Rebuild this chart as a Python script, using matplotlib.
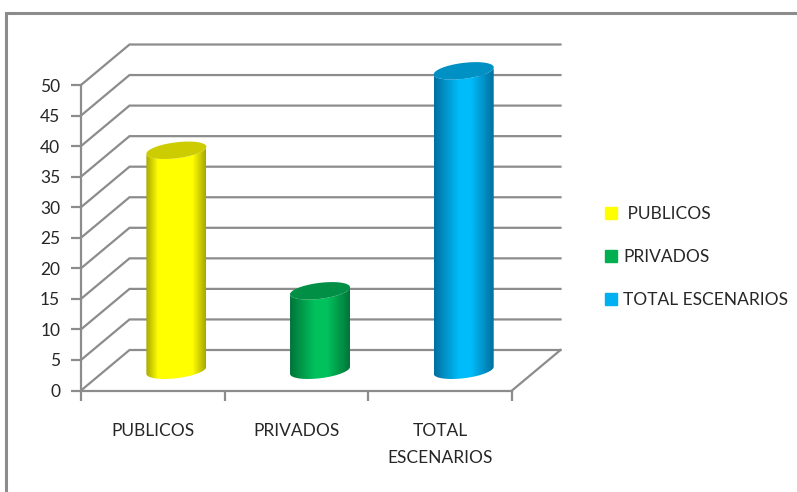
# grafico de escenarios: cylinders drawn on a fake 3D wall/floor
import numpy as np
import matplotlib
matplotlib.use("Agg")
import matplotlib.pyplot as plt
from matplotlib.colors import LinearSegmentedColormap
from matplotlib.lines import Line2D
from matplotlib.patches import Polygon, Rectangle

# data
categories = ["PUBLICOS", "PRIVADOS", "TOTAL\nESCENARIOS"]
legend_labels = [" PUBLICOS", "PRIVADOS", "TOTAL ESCENARIOS"]
values = [36, 13, 49]
y_ticks = list(range(0, 55, 5))

# colours: edge, centre, top cap
body_edge = ["#a8a800", "#00753a", "#0070a0"]
body_mid = ["#ffff00", "#00c25c", "#00bcfa"]
cap_colors = ["#cccc00", "#008f45", "#0091c4"]
legend_colors = ["#ffff00", "#00b050", "#00b0f0"]
# where the bright part of each body starts and ends, as a share of its width
bright_from = [0.2, 0.42, 0.42]
bright_to = [0.78, 0.62, 0.62]

# figure appearance (pixels of the 797x492 picture)
W, H = 797, 492
LEFT, RIGHT = 81, 512
BOTTOM, TOP = 390.5, 85
DEPTH_X, DEPTH_Y = 48.5, 40.5
CYL_RX = 30
CYL_TILT = 3.5
CYL_RY = 8
GRID = "#8c8c8c"
TEXT = "#262626"
FONT_SIZE = 12.5

plt.rcParams["font.family"] = ["Lato", "DejaVu Sans"]

fig = plt.figure(figsize=(W / 100, H / 100), dpi=100)
ax = fig.add_axes([LEFT / W, 1 - BOTTOM / H, (RIGHT - LEFT) / W, (BOTTOM - TOP) / H])
ax.set_xlim(0, len(categories))
ax.set_ylim(0, 50)
ax.patch.set_alpha(0)

# pixel sizes to data units
ux = (RIGHT - LEFT) / len(categories)
uy = (BOTTOM - TOP) / 50
dx = DEPTH_X / ux
dy = DEPTH_Y / uy

# outer frame of the pasted chart
fig.add_artist(Rectangle((6 / W, -0.1), 1, 1.1 - 12.5 / H, transform=fig.transFigure,
                         fill=False, ec=GRID, lw=2.2))

# back wall lines plus the side wall diagonals
for v in y_ticks:
    ax.plot([0, dx, len(categories) + dx], [v, v + dy, v + dy], color=GRID, lw=1.6,
            clip_on=False, zorder=1, solid_joinstyle="miter")
# floor
ax.plot([len(categories), len(categories) + dx], [0, dy], color=GRID, lw=1.6,
        clip_on=False, zorder=1)

# cylinders
t = np.linspace(0, 2 * np.pi, 200)
for i, val in enumerate(values):
    cx = i + 0.5 + dx / 2 - 0.005
    base = dy / 2
    top = base + val
    ex = CYL_RX / ux * np.cos(t)
    ey = (CYL_TILT * np.cos(t) + CYL_RY * np.sin(t)) / uy

    # body outline: lower half of the base ellipse, then the same curve lifted to the top
    low = np.sin(t) <= 0
    order = np.argsort(ex[low])
    bx = cx + ex[low][order]
    by = base + ey[low][order]
    outline = np.column_stack([np.r_[bx, bx[::-1]], np.r_[by, (by + val)[::-1]]])
    clip = Polygon(outline, closed=True, transform=ax.transData)

    cmap = LinearSegmentedColormap.from_list(
        "body%d" % i,
        [(0, body_edge[i]), (bright_from[i], body_mid[i]), (bright_to[i], body_mid[i]),
         (1, body_edge[i])])
    grad = np.linspace(0, 1, 128).reshape(1, -1)
    im = ax.imshow(grad, cmap=cmap, aspect="auto", zorder=3,
                   extent=[cx - CYL_RX / ux, cx + CYL_RX / ux, base - 3, top + 3])
    im.set_clip_path(clip)
    im.set_clip_box(fig.bbox)

    ax.fill(cx + ex, top + ey, color=cap_colors[i], lw=0, clip_on=False, zorder=4)

ax.set_xlim(0, len(categories))
ax.set_ylim(0, 50)

# axes
for side in ["top", "right"]:
    ax.spines[side].set_visible(False)
for side in ["left", "bottom"]:
    ax.spines[side].set_color(GRID)
    ax.spines[side].set_linewidth(1.6)
ax.set_yticks(y_ticks)
ax.set_xticks(range(len(categories) + 1))
ax.set_xticklabels([])
ax.set_xticks(np.arange(len(categories)) + 0.5, minor=True)
ax.set_xticklabels(categories, minor=True, fontsize=FONT_SIZE, color=TEXT, linespacing=1.8)
ax.tick_params(axis="x", which="minor", length=0, pad=23.5)
ax.tick_params(axis="both", which="major", length=7, width=1.6, color=GRID)
ax.tick_params(axis="y", labelsize=FONT_SIZE, labelcolor=TEXT, pad=8)

# legend
handles = [Line2D([], [], ls="", marker="s", ms=9, mfc=c, mec=c) for c in legend_colors]
fig.legend(handles, legend_labels, loc="center left", bbox_to_anchor=(598 / W, 1 - 257 / H),
           frameon=False, fontsize=FONT_SIZE, labelcolor=TEXT, labelspacing=1.57,
           handletextpad=0, handlelength=1.45, borderpad=0, borderaxespad=0)

fig.savefig("out.png", dpi=100)
